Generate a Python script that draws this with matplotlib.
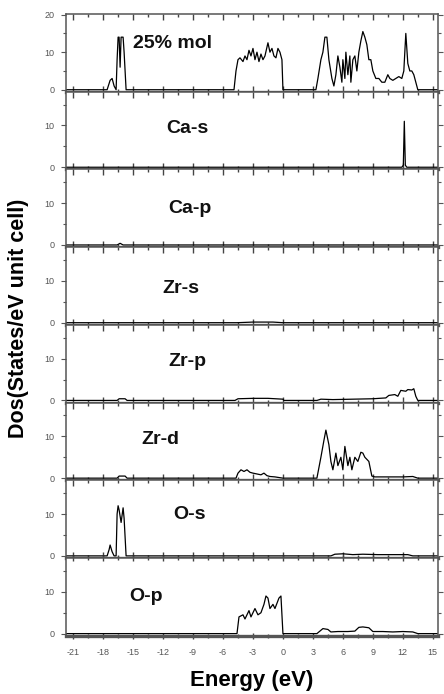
import numpy as np
import matplotlib
matplotlib.use('Agg')
import matplotlib.pyplot as plt
from matplotlib.ticker import MultipleLocator

plt.rcParams['font.family'] = ['Liberation Sans', 'DejaVu Sans']
plt.rcParams['axes.unicode_minus'] = False

# panel names, top to bottom
labels = ['25% mol', 'Ca-s', 'Ca-p', 'Zr-s', 'Zr-p', 'Zr-d', 'O-s', 'O-p']

# total DOS
e_tot = [-21.7, -17.6, -17.3, -17.1, -16.9, -16.7, -16.6, -16.5, -16.4, -16.3, -16.2, -16.0, -15.9, -15.7,
         -4.9, -4.7, -4.5, -4.3, -4.0, -3.8, -3.6, -3.4, -3.2, -3.0, -2.8, -2.6, -2.4, -2.2, -2.0, -1.8,
         -1.5, -1.3, -1.1, -0.9, -0.7, -0.5, -0.3, -0.1, 0.0,
         3.3, 3.5, 3.8, 4.0, 4.2, 4.4, 4.6, 4.9, 5.1, 5.3, 5.5, 5.7, 5.9, 6.0, 6.2, 6.3, 6.5, 6.7, 6.8,
         7.0, 7.2, 7.4, 7.6, 7.8, 8.0, 8.2, 8.4, 8.6, 8.8, 9.0, 9.3, 9.6, 9.9, 10.2, 10.5, 10.7, 11.0,
         11.3, 11.6, 11.9, 12.1, 12.3, 12.5, 12.7, 12.9, 13.1, 13.3, 13.5, 15.5]
d_tot = [0, 0, 2.5, 3, 1, 0, 8, 14, 14, 6, 14, 14, 10, 0,
         0, 5, 8, 8.5, 7.5, 9, 8, 10.5, 9, 11, 8, 10, 7.5, 9.5, 8, 9,
         12.5, 10, 11, 9, 8.5, 11, 10, 8, 0,
         0, 3, 8, 10, 14, 14, 8, 3, 1, 4, 9, 6, 2, 8, 3, 10, 4, 9, 2,
         8, 9, 5, 10, 13, 15.5, 14, 12, 8, 8, 5, 3, 3, 2, 2, 4, 3, 2.5,
         3, 3.5, 3, 5, 15, 7, 5, 5, 4, 2, 0, 0]

e_cas = [-21.7, 11.9, 12.05, 12.15, 12.25, 12.4, 15.5]
d_cas = [0, 0, 0.5, 11, 0.5, 0, 0]

e_cap = [-21.7, -16.6, -16.3, -16.0, 15.5]
d_cap = [0, 0, 0.4, 0, 0]

e_zrs = [-21.7, -4.6, -3.0, -1.0, 0.0, 15.5]
d_zrs = [0, 0, 0.15, 0.15, 0, 0]

e_zrp = [-21.7, -16.6, -16.4, -15.8, -15.6, -4.8, -4.5, -3.0, -1.5, 0.0, 0.1, 3.4, 3.8, 5.0, 7.0, 9.0,
         10.3, 10.6, 11.2, 11.5, 11.8, 12.3, 12.5, 12.9, 13.1, 13.3, 13.5, 15.5]
d_zrp = [0, 0, 0.4, 0.4, 0, 0, 0.4, 0.5, 0.5, 0.3, 0, 0, 0.3, 0.2, 0.3, 0.4,
         0.6, 1.2, 1.4, 1.0, 2.4, 2.2, 2.6, 2.5, 2.8, 1.0, 0, 0]

e_zrd = [-21.7, -16.6, -16.4, -15.8, -15.6, -4.7, -4.5, -4.2, -3.9, -3.6, -3.3, -3.0, -2.6, -2.2, -1.9,
         -1.6, -1.3, -0.8, 0.0, 3.4, 3.6, 3.8, 4.1, 4.3, 4.6, 4.8, 5.0, 5.3, 5.5, 5.8, 6.0, 6.2, 6.5,
         6.7, 6.9, 7.2, 7.5, 7.8, 8.0, 8.2, 8.6, 8.9, 9.2, 10.5, 12.0, 13.0, 13.5, 15.5]
d_zrd = [0, 0, 0.5, 0.5, 0, 0, 1.2, 2.0, 1.6, 2.0, 1.4, 1.2, 1.0, 0.8, 1.2,
         0.6, 0.4, 0.3, 0, 0, 2.5, 5, 9, 11.5, 8, 4, 2, 6, 3, 5, 2, 7.6, 3,
         5, 2, 5, 4, 6.2, 6, 5, 4, 0.5, 0.3, 0.3, 0.3, 0.4, 0, 0]

e_os = [-21.7, -17.6, -17.4, -17.3, -17.1, -16.9, -16.7, -16.6, -16.5, -16.4, -16.2, -16.0, -15.9,
        -15.7, 4.8, 5.2, 6.0, 7.0, 8.0, 9.5, 11.0, 12.5, 13.0, 15.5]
d_os = [0, 0, 1.5, 2.6, 1, 0, 0, 10, 12, 11, 8, 11.5, 9,
        0, 0, 0.4, 0.5, 0.3, 0.4, 0.3, 0.3, 0.3, 0, 0]

e_op = [-21.7, -4.6, -4.4, -4.0, -3.8, -3.4, -3.2, -2.8, -2.5, -2.2, -1.9, -1.7, -1.5, -1.3, -1.0,
        -0.8, -0.4, -0.2, 0.0, 3.4, 3.7, 4.0, 4.5, 4.8, 5.5, 6.5, 7.2, 7.6, 8.0, 8.6, 9.0, 10.0,
        11.0, 12.0, 13.0, 13.5, 15.5]
d_op = [0, 0, 4, 4.5, 3.5, 5.5, 4, 6, 4.5, 5, 7, 9, 8.5, 6, 7,
        6, 8.5, 9, 0, 0, 0.6, 1.2, 1.0, 0.4, 0.5, 0.5, 0.6, 1.5, 1.6, 1.4, 0.5, 0.5,
        0.4, 0.5, 0.4, 0, 0]

energies = [e_tot, e_cas, e_cap, e_zrs, e_zrp, e_zrd, e_os, e_op]
dos = [d_tot, d_cas, d_cap, d_zrs, d_zrp, d_zrd, d_os, d_op]

# label anchors in data coords
label_pos = [(-15.0, 12.2, 'left'), (-9.6, 9.3, 'center'), (-9.3, 8.8, 'center'),
             (-10.2, 8.1, 'center'), (-9.6, 9.3, 'center'), (-12.3, 9.3, 'center'),
             (-9.4, 9.8, 'center'), (-13.7, 9.0, 'center')]

fig, axes = plt.subplots(8, 1, figsize=(4.44, 6.94), dpi=100, sharex=True)
fig.subplots_adjust(left=0.149, right=0.986, top=0.98, bottom=0.084, hspace=0)

for i, ax in enumerate(axes):
    ax.plot(energies[i], dos[i], color='black', lw=0.9)
    ax.set_xlim(-21.7, 15.5)
    if i == 0:
        ax.set_ylim(-0.5, 20.2)
        ax.set_yticks([0, 10, 20])
    else:
        ax.set_ylim(-0.5, 18.1)
        ax.set_yticks([0, 10])
    ax.yaxis.set_minor_locator(MultipleLocator(5))
    ax.xaxis.set_major_locator(MultipleLocator(3))
    ax.xaxis.set_minor_locator(MultipleLocator(1.5))
    ax.tick_params(axis='y', which='both', direction='out', left=True, right=True,
                   labelsize=6.5, labelcolor='#555555', color='#555555', pad=5)
    ax.tick_params(axis='y', which='major', length=3.5, width=0.8)
    ax.tick_params(axis='y', which='minor', length=2, width=0.8)
    ax.tick_params(axis='x', which='both', direction='in', top=True, bottom=True,
                   color='#444444', width=1.0)
    ax.tick_params(axis='x', which='major', length=4)
    ax.tick_params(axis='x', which='minor', length=2.5)
    for s in ax.spines.values():
        s.set_color('#555555')
        s.set_linewidth(1.1)
    ax.spines['bottom'].set_linewidth(2.4)
    x, y, ha = label_pos[i]
    ax.text(x, y, labels[i], ha=ha, va='center', fontsize=14, fontweight='bold', color='#111111')

axes[-1].tick_params(axis='x', which='both', direction='inout', labelsize=6.5,
                     labelcolor='#555555', pad=7)
axes[-1].set_xticks(np.arange(-21, 16, 3))
axes[-1].set_xlabel('Energy (eV)', fontsize=16, fontweight='bold', labelpad=9)
fig.text(0.042, 0.542, 'Dos(States/eV unit cell)', rotation=90, ha='center', va='center',
         fontsize=15.5, fontweight='bold')

plt.savefig('out.png', dpi=100)
